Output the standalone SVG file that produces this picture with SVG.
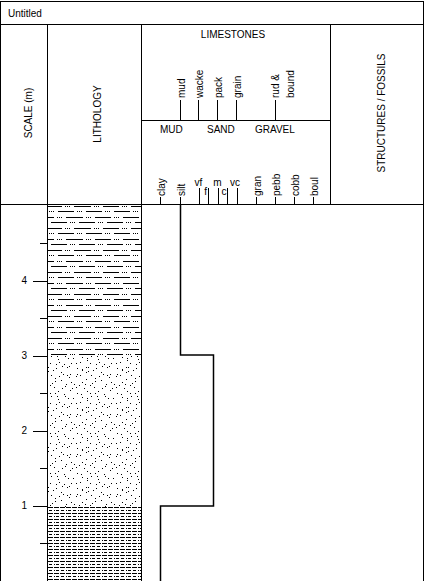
<svg xmlns="http://www.w3.org/2000/svg" width="424" height="581" viewBox="0 0 424 581">
<style>
text{font-family:"Liberation Sans",Arial,sans-serif;font-size:10px;fill:#000}
.ln{stroke:#000;stroke-width:1;fill:none;shape-rendering:crispEdges}
.prof{stroke:#000;stroke-width:1.5;fill:none}
.mid{text-anchor:middle}
.end{text-anchor:end}
</style>
<defs>
<pattern id="shale" patternUnits="userSpaceOnUse" x="48" y="205" width="93" height="22">
<path fill="#000" d="M0,1h14v1h-14z M17,1h1v1h-1z M19,1h1v1h-1z M21,1h1v1h-1z M26,1h17v1h-17z M46,1h1v1h-1z M48,1h1v1h-1z M50,1h1v1h-1z M55,1h16v1h-16z M74,1h1v1h-1z M76,1h1v1h-1z M78,1h1v1h-1z M83,1h10v1h-10z
M1,6h1v1h-1z M3,6h1v1h-1z M5,6h1v1h-1z M10,6h16v1h-16z M29,6h1v1h-1z M31,6h1v1h-1z M33,6h1v1h-1z M38,6h16v1h-16z M57,6h1v1h-1z M59,6h1v1h-1z M61,6h1v1h-1z M66,6h16v1h-16z M85,6h1v1h-1z M87,6h1v1h-1z M89,6h1v1h-1z
M0,12h6v1h-6z M9,12h1v1h-1z M11,12h1v1h-1z M13,12h1v1h-1z M18,12h17v1h-17z M38,12h1v1h-1z M40,12h1v1h-1z M42,12h1v1h-1z M47,12h16v1h-16z M66,12h1v1h-1z M68,12h1v1h-1z M70,12h1v1h-1z M75,12h16v1h-16z
M3,17h16v1h-16z M22,17h1v1h-1z M24,17h1v1h-1z M26,17h1v1h-1z M31,17h16v1h-16z M50,17h1v1h-1z M52,17h1v1h-1z M54,17h1v1h-1z M59,17h16v1h-16z M78,17h1v1h-1z M80,17h1v1h-1z M82,17h1v1h-1z M87,17h6v1h-6z"/>
</pattern>
<pattern id="sand" patternUnits="userSpaceOnUse" x="48" y="355" width="40" height="40">
<path fill="#000" d="M3,1h1v1h-1z M9,1h1v1h-1z M10,4h1v1h-1z M17,1h1v1h-1z M20,3h1v1h-1z M25,3h1v1h-1z M34,2h1v1h-1z M39,3h1v1h-1z
M2,8h1v1h-1z M8,9h1v1h-1z M11,7h1v1h-1z M16,9h1v1h-1z M23,8h1v1h-1z M28,8h1v1h-1z M32,7h1v1h-1z M39,5h1v1h-1z
M0,12h1v1h-1z M8,13h1v1h-1z M14,11h1v1h-1z M19,12h1v1h-1z M21,11h1v1h-1z M29,13h1v1h-1z M34,14h1v1h-1z M38,12h1v1h-1z
M0,16h1v1h-1z M5,15h1v1h-1z M13,17h1v1h-1z M15,19h1v1h-1z M22,19h1v1h-1z M29,19h1v1h-1z M34,15h1v1h-1z M38,17h1v1h-1z
M3,20h1v1h-1z M7,23h1v1h-1z M11,21h1v1h-1z M19,20h1v1h-1z M21,22h1v1h-1z M28,21h1v1h-1z M32,20h1v1h-1z M38,24h1v1h-1z
M4,28h1v1h-1z M7,26h1v1h-1z M13,25h1v1h-1z M18,29h1v1h-1z M23,27h1v1h-1z M26,29h1v1h-1z M34,27h1v1h-1z M37,29h1v1h-1z
M2,30h1v1h-1z M6,32h1v1h-1z M14,33h1v1h-1z M17,31h1v1h-1z M24,33h1v1h-1z M28,32h1v1h-1z M31,30h1v1h-1z M36,33h1v1h-1z
M2,38h1v1h-1z M7,38h1v1h-1z M10,36h1v1h-1z M16,39h1v1h-1z M22,35h1v1h-1z M29,38h1v1h-1z M33,39h1v1h-1z M39,36h1v1h-1z"/>
</pattern>
<pattern id="marl" patternUnits="userSpaceOnUse" x="48" y="507" width="12" height="6">
<rect x="0" y="0" width="5" height="1" fill="#000"/>
<rect x="6" y="0" width="5" height="1" fill="#000"/>
<rect x="1" y="3" width="3" height="1" fill="#000"/>
<rect x="6" y="3" width="1" height="1" fill="#000"/>
<rect x="8" y="3" width="3" height="1" fill="#000"/>
</pattern>
</defs>

<g id="frame">
<line class="ln" x1="0" y1="1.5" x2="424" y2="1.5"/>
<line class="ln" x1="0.5" y1="1" x2="0.5" y2="581"/>
<line class="ln" x1="423.5" y1="1" x2="423.5" y2="581"/>
<line class="ln" x1="0" y1="24.5" x2="424" y2="24.5"/>
<line class="ln" x1="0" y1="204.5" x2="424" y2="204.5"/>
<line class="ln" x1="47.5" y1="24" x2="47.5" y2="581"/>
<line class="ln" x1="141.5" y1="24" x2="141.5" y2="581"/>
<line class="ln" x1="330.5" y1="24" x2="330.5" y2="205"/>
<line class="ln" x1="141" y1="120.5" x2="331" y2="120.5"/>
<text x="8" y="17">Untitled</text>
</g>

<g id="scale-header"><text class="mid" transform="translate(32,113) rotate(-90)">SCALE (m)</text></g>
<g id="lithology-header"><text class="mid" transform="translate(101,114) rotate(-90)">LITHOLOGY</text></g>
<g id="structures-header"><text class="mid" transform="translate(385,113) rotate(-90)">STRUCTURES / FOSSILS</text></g>

<g id="limestones-header">
<text class="mid" x="233" y="38">LIMESTONES</text>
<line class="ln" x1="180.5" y1="100" x2="180.5" y2="120"/>
<line class="ln" x1="198.5" y1="100" x2="198.5" y2="120"/>
<line class="ln" x1="217.5" y1="100" x2="217.5" y2="120"/>
<line class="ln" x1="236.5" y1="100" x2="236.5" y2="120"/>
<line class="ln" x1="275.5" y1="100" x2="275.5" y2="120"/>
<text transform="translate(184.5,98) rotate(-90)">mud</text>
<text transform="translate(202.5,98) rotate(-90)">wacke</text>
<text transform="translate(221.5,98) rotate(-90)">pack</text>
<text transform="translate(240.5,98) rotate(-90)">grain</text>
<text transform="translate(279,98) rotate(-90)">rud &amp;</text>
<text transform="translate(294,98) rotate(-90)">bound</text>
</g>

<g id="grainsize-header">
<text x="160" y="133">MUD</text>
<text x="207" y="133">SAND</text>
<text x="255" y="133">GRAVEL</text>
<line class="ln" x1="160.5" y1="197" x2="160.5" y2="204"/>
<line class="ln" x1="180.5" y1="197" x2="180.5" y2="204"/>
<line class="ln" x1="199.5" y1="188" x2="199.5" y2="204"/>
<line class="ln" x1="208.5" y1="188" x2="208.5" y2="204"/>
<line class="ln" x1="218.5" y1="188" x2="218.5" y2="204"/>
<line class="ln" x1="227.5" y1="188" x2="227.5" y2="204"/>
<line class="ln" x1="237.5" y1="188" x2="237.5" y2="204"/>
<line class="ln" x1="256.5" y1="197" x2="256.5" y2="204"/>
<line class="ln" x1="275.5" y1="197" x2="275.5" y2="204"/>
<line class="ln" x1="294.5" y1="197" x2="294.5" y2="204"/>
<line class="ln" x1="313.5" y1="197" x2="313.5" y2="204"/>
<text transform="translate(164.5,196) rotate(-90)">clay</text>
<text transform="translate(184.5,196) rotate(-90)">silt</text>
<text class="mid" x="198.5" y="186">vf</text>
<text class="end" x="207" y="195">f</text>
<text class="mid" x="217.5" y="186">m</text>
<text class="end" x="226.5" y="195">c</text>
<text class="mid" x="235" y="186">vc</text>
<text transform="translate(260.5,196) rotate(-90)">gran</text>
<text transform="translate(279.5,196) rotate(-90)">pebb</text>
<text transform="translate(298.5,196) rotate(-90)">cobb</text>
<text transform="translate(317.5,196) rotate(-90)">boul</text>
</g>

<g id="scale">
<line class="ln" x1="33" y1="281.5" x2="47" y2="281.5"/>
<line class="ln" x1="33" y1="356.5" x2="47" y2="356.5"/>
<line class="ln" x1="33" y1="431.5" x2="47" y2="431.5"/>
<line class="ln" x1="33" y1="506.5" x2="47" y2="506.5"/>
<line class="ln" x1="40" y1="243.5" x2="47" y2="243.5"/>
<line class="ln" x1="40" y1="318.5" x2="47" y2="318.5"/>
<line class="ln" x1="40" y1="393.5" x2="47" y2="393.5"/>
<line class="ln" x1="40" y1="468.5" x2="47" y2="468.5"/>
<line class="ln" x1="40" y1="543.5" x2="47" y2="543.5"/>
<text class="end" x="27" y="284">4</text>
<text class="end" x="27" y="359">3</text>
<text class="end" x="27" y="434">2</text>
<text class="end" x="27" y="509">1</text>
</g>

<g id="bed-siltstone"><rect x="48" y="205" width="93" height="150" fill="url(#shale)"/></g>
<g id="bed-sandstone"><rect x="48" y="355" width="93" height="152" fill="url(#sand)"/></g>
<g id="bed-mudstone"><rect x="48" y="507" width="93" height="74" fill="url(#marl)"/></g>

<g id="connectors">
<polyline class="prof" points="180.5,205 180.5,355 213.5,355 213.5,506 160.5,506 160.5,581"/>
</g>
</svg>
